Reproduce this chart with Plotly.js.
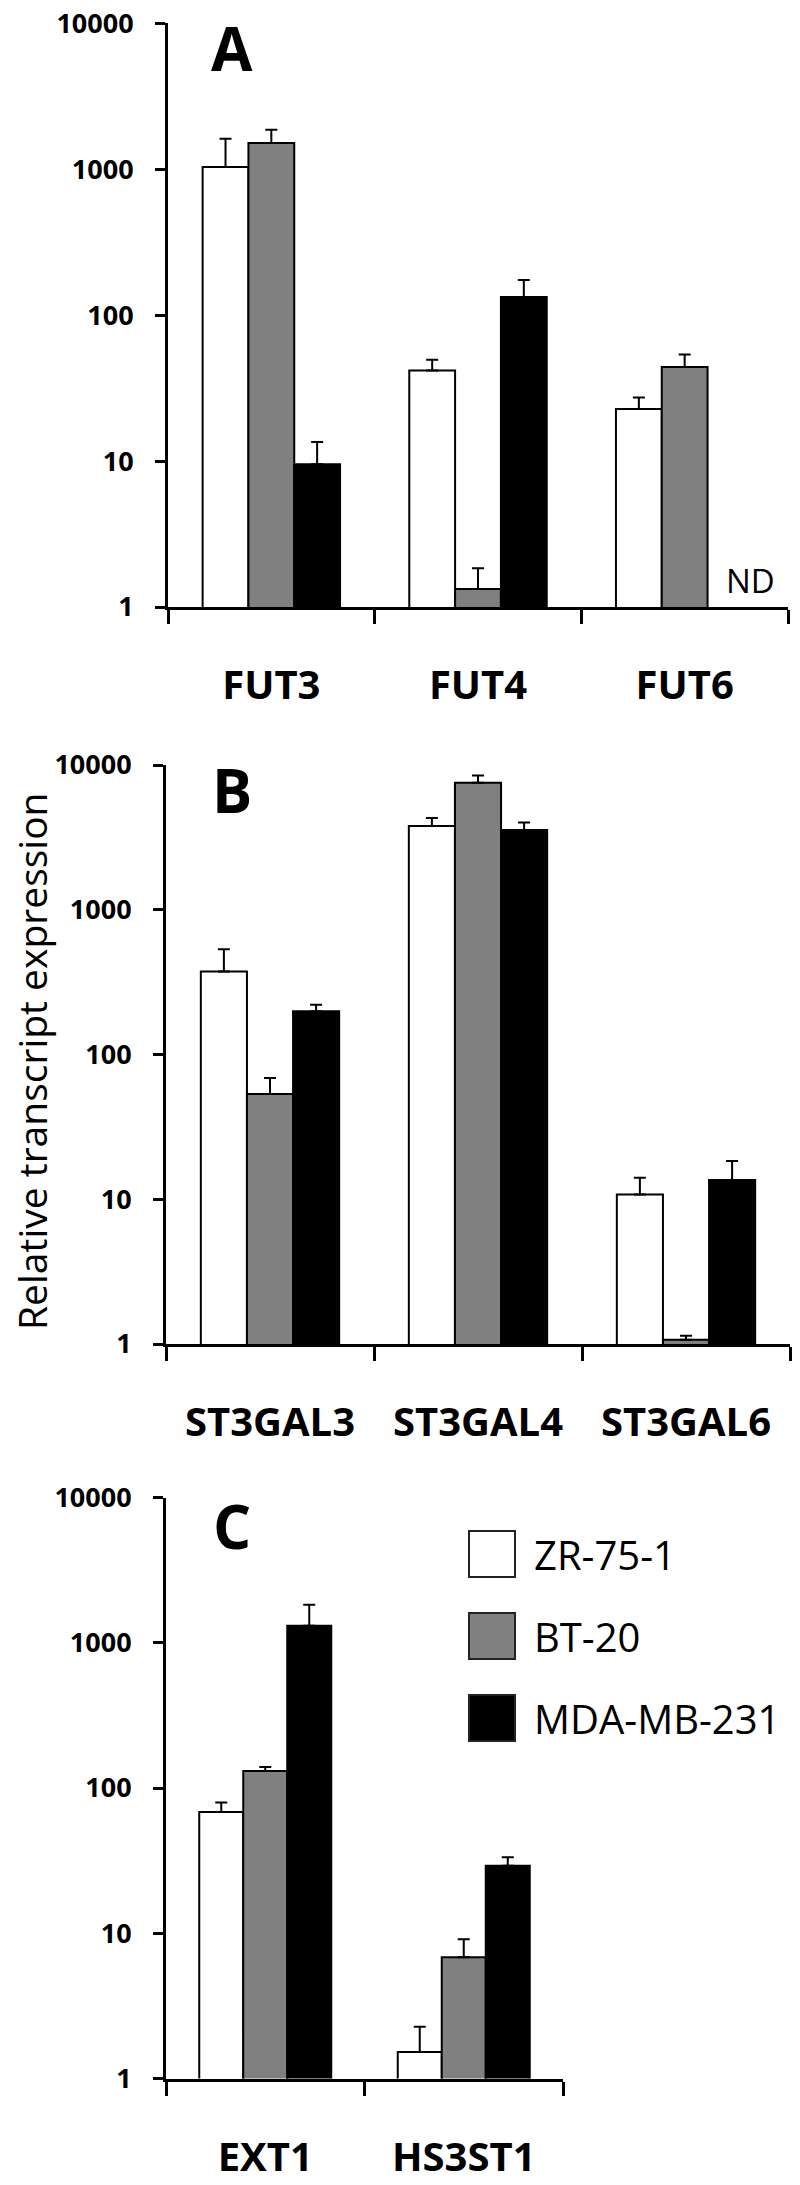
<!DOCTYPE html>
<html>
<head>
<meta charset="utf-8">
<script src="https://cdn.plot.ly/plotly-3.0.1.min.js"></script>
<style>html,body{margin:0;padding:0;background:#fff;}</style>
</head>
<body>
<div id="chart" style="width:800px;height:2185px;"></div>
<script>
// ---- data ----
var seriesNames = ["ZR-75-1", "BT-20", "MDA-MB-231"];
var seriesColors = ["#ffffff", "#808080", "#000000"];

var genesA = ["FUT3", "FUT4", "FUT6"];
var zrA   = [1037, 41.7, 22.7];
var btA   = [1510, 1.33, 44.2];
var mdaA  = [9.5, 133, null];          // FUT6 in MDA-MB-231: ND
var zrAErr  = [581, 7.7, 4.6];
var btAErr  = [356, 0.51, 9.6];
var mdaAErr = [4.0, 41, null];

var genesB = ["ST3GAL3", "ST3GAL4", "ST3GAL6"];
var zrB   = [374, 3785, 10.8];
var btB   = [53.4, 7540, 1.07];
var mdaB  = [198.6, 3550, 13.6];
var zrBErr  = [159, 517, 3.3];
var btBErr  = [15.5, 910, 0.07];
var mdaBErr = [22.4, 459, 4.8];

var genesC = ["EXT1", "HS3ST1"];
var zrC   = [68.3, 1.52];
var btC   = [131, 6.83];
var mdaC  = [1310, 29.2];
var zrCErr  = [11.1, 0.75];
var btCErr  = [8.6, 2.26];
var mdaCErr = [518, 4.2];

var yTickVals = [1, 10, 100, 1000, 10000];
var yTickText = ["1", "10", "100", "1000", "10000"];
var panelLetters = ["A", "B", "C"];
var yTitle = "Relative transcript expression";

// ---- traces ----
function zeros(a){ return a.map(function(v){ return v === null ? null : 0; }); }
function mk(genes, vals, errs, idx, xa, ya){
  return {
    type: "bar", x: genes, y: vals, name: seriesNames[idx],
    xaxis: xa, yaxis: ya, showlegend: false,
    marker: {color: seriesColors[idx], line: {color: "#000", width: 2}},
    error_y: {type: "data", symmetric: false, array: errs, arrayminus: zeros(errs),
              color: "#000", thickness: 2, width: 6},
    hoverinfo: "x+y+name"
  };
}
var data = [
  mk(genesA, zrA, zrAErr, 0, "x", "y"),
  mk(genesA, btA, btAErr, 1, "x", "y"),
  mk(genesA, mdaA, mdaAErr, 2, "x", "y"),
  mk(genesB, zrB, zrBErr, 0, "x2", "y2"),
  mk(genesB, btB, btBErr, 1, "x2", "y2"),
  mk(genesB, mdaB, mdaBErr, 2, "x2", "y2"),
  mk(genesC, zrC, zrCErr, 0, "x3", "y3"),
  mk(genesC, btC, btCErr, 1, "x3", "y3"),
  mk(genesC, mdaC, mdaCErr, 2, "x3", "y3")
];

// ---- layout ----
var W = 800, H = 2185;
function px2x(p){ return p / W; }
function px2y(p){ return 1 - p / H; }
var FONT = "Open Sans, Noto Sans, Liberation Sans, sans-serif";

function xax(domain, anchor){
  return {
    domain: domain, anchor: anchor, type: "category",
    showline: true, linecolor: "#000", linewidth: 3,
    ticks: "outside", tickson: "boundaries", ticklen: 14, tickwidth: 3, tickcolor: "#000",
    tickfont: {family: FONT, size: 40, color: "#000", weight: 700},
    ticklabelstandoff: 41,
    showgrid: false, zeroline: false, fixedrange: true
  };
}
function yax(domain, anchor){
  return {
    domain: domain, anchor: anchor, type: "log", range: [0, 4], autorange: false,
    showline: true, linecolor: "#000", linewidth: 3,
    ticks: "outside", ticklen: 10, tickwidth: 3, tickcolor: "#000",
    tickvals: yTickVals, ticktext: yTickText,
    tickfont: {family: FONT, size: 27, color: "#000", weight: 700},
    ticklabelstandoff: 16,
    showgrid: false, zeroline: false, fixedrange: true
  };
}

var annotations = [];
var panelPos = [[232, 48], [232, 790], [232, 1526]];
panelLetters.forEach(function(L, i){
  annotations.push({
    xref: "paper", yref: "paper", x: px2x(panelPos[i][0]), y: px2y(panelPos[i][1]),
    xanchor: "center", yanchor: "middle", showarrow: false, text: L,
    font: {family: FONT, size: 60, color: "#000", weight: 700}
  });
});
// ND label for FUT6 / MDA-MB-231
annotations.push({
  xref: "x", yref: "y", x: 2.32, y: 0.18, xanchor: "center", yanchor: "middle",
  showarrow: false, text: "ND", font: {family: FONT, size: 33, color: "#000"}
});
// y title
annotations.push({
  xref: "paper", yref: "paper", x: px2x(31), y: px2y(1061), xanchor: "center", yanchor: "middle",
  showarrow: false, text: yTitle, textangle: -90,
  font: {family: FONT, size: 39, color: "#000"}
});

// legend (in panel C)
var shapes = [];
var legTop = 1531, legStep = 82, box = 46, boxX = 469;
seriesNames.forEach(function(n, i){
  var y0 = legTop + i * legStep;
  shapes.push({
    type: "rect", xref: "paper", yref: "paper",
    x0: px2x(boxX), x1: px2x(boxX + box), y0: px2y(y0), y1: px2y(y0 + box),
    fillcolor: seriesColors[i], line: {color: "#222", width: 2}
  });
  annotations.push({
    xref: "paper", yref: "paper", x: px2x(532), y: px2y(y0 + box / 2),
    xanchor: "left", yanchor: "middle", showarrow: false, text: n,
    font: {family: FONT, size: 40, color: "#000"}
  });
});

var layout = {
  width: W, height: H,
  margin: {l: 0, r: 0, t: 0, b: 0},
  paper_bgcolor: "#fff", plot_bgcolor: "#fff",
  barmode: "group", bargap: 0.335, bargroupgap: 0,
  showlegend: false,
  xaxis:  xax([168 / W, 788 / W], "y"),
  yaxis:  yax([px2y(607), px2y(23.3)], "x"),
  xaxis2: xax([166 / W, 790 / W], "y2"),
  yaxis2: yax([px2y(1344), px2y(765)], "x2"),
  xaxis3: xax([166 / W, 563 / W], "y3"),
  yaxis3: yax([px2y(2078.5), px2y(1497.5)], "x3"),
  annotations: annotations,
  shapes: shapes
};

Plotly.newPlot("chart", data, layout, {displayModeBar: false, staticPlot: true});
</script>
</body>
</html>
